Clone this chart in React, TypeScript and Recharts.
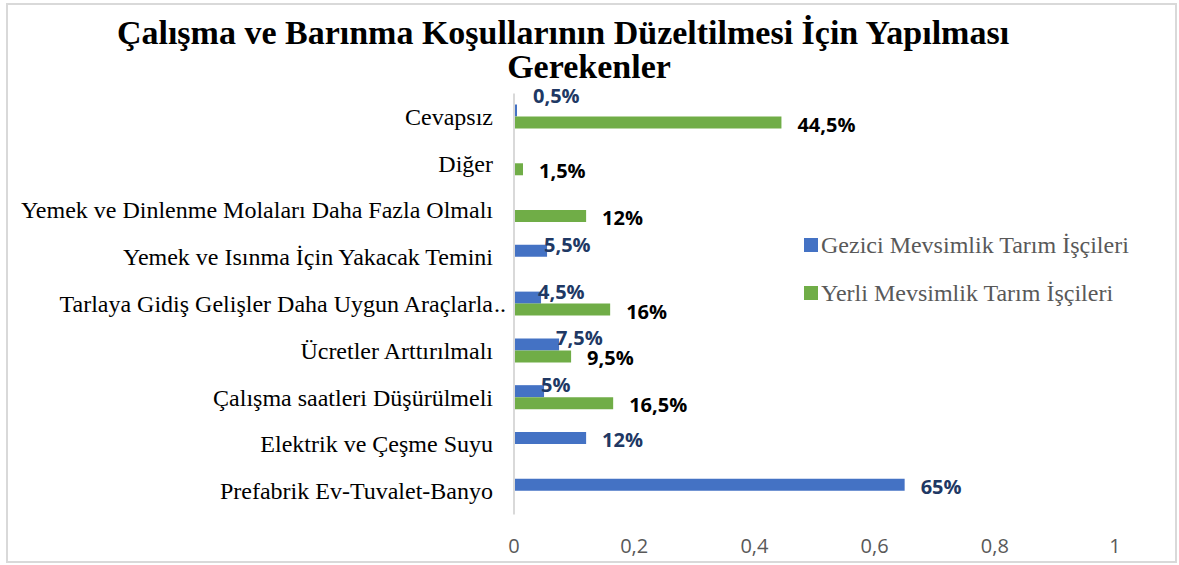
import React from 'react';
import { BarChart, Bar, XAxis, YAxis, Legend, LabelList } from 'recharts';

const categories = [
  'Cevapsız',
  'Diğer',
  'Yemek ve Dinlenme Molaları Daha Fazla Olmalı',
  'Yemek ve Isınma İçin Yakacak Temini',
  'Tarlaya Gidiş Gelişler Daha Uygun Araçlarla..',
  'Ücretler Arttırılmalı',
  'Çalışma saatleri Düşürülmeli',
  'Elektrik ve Çeşme Suyu',
  'Prefabrik Ev-Tuvalet-Banyo',
];
const gezici: (number | null)[] = [0.005, null, null, 0.055, 0.045, 0.075, 0.05, 0.12, 0.65];
const yerli: (number | null)[] = [0.445, 0.015, 0.12, null, 0.16, 0.095, 0.165, null, null];
const xTicks = [0, 0.2, 0.4, 0.6, 0.8, 1];
const seriesNames = ['Gezici Mevsimlik Tarım İşçileri', 'Yerli Mevsimlik Tarım İşçileri'];
const titleLines = ['Çalışma ve Barınma Koşullarının Düzeltilmesi İçin Yapılması', 'Gerekenler'];

const data = categories.map((name, i) => ({ name, gezici: gezici[i], yerli: yerli[i] }));

const BLUE = '#4472C4';
const GREEN = '#70AD47';
const SERIF = '"Liberation Serif", "Times New Roman", serif';
const SANS = '"Open Sans", "Liberation Sans", sans-serif';

const fmtPct = (v: number) => `${(Math.round(v * 1000) / 10).toString().replace('.', ',')}%`;
const fmtTick = (v: number) => v.toString().replace('.', ',');

const XTick = (props: any) => {
  const { x, y, payload } = props;
  return (
    <text x={x} y={y + 38.5} textAnchor="middle" fill="#595959" fontFamily={SANS} fontSize={20}>
      {fmtTick(payload.value)}
    </text>
  );
};

const YTick = (props: any) => {
  const { x, y, payload } = props;
  const label: string = payload.value;
  const truncated = label.endsWith('..');
  const main = truncated ? label.slice(0, -2) : label;
  return (
    <g>
      <text x={x - 21} y={y + 8} textAnchor="end" fill="#000" fontFamily={SERIF} fontSize={24}>
        {main}
      </text>
      {truncated && (
        <text x={x - 20} y={y + 8} textAnchor="start" fill="#000" fontFamily={SERIF} fontSize={24}>
          ..
        </text>
      )}
    </g>
  );
};

const BlueLabel = (props: any) => {
  const { x, y, width, height, value } = props;
  if (value == null || value === 0) return null;
  const end = x + width;
  const cy = y + height / 2;
  let tx: number;
  let ty: number;
  if (value >= 0.1) {
    tx = end + 16;
    ty = cy + 9;
  } else {
    tx = Math.max(end - 3, 533);
    ty = cy + 9 - (value < 0.01 ? 17 : 8);
  }
  return (
    <text x={tx} y={ty} fill="#203864" fontFamily={SANS} fontWeight="bold" fontSize={20}>
      {fmtPct(value)}
    </text>
  );
};

const GreenLabel = (props: any) => {
  const { x, y, width, height, value } = props;
  if (value == null || value === 0) return null;
  const end = x + width;
  const cy = y + height / 2;
  return (
    <text x={end + 16} y={cy + 9} fill="#000" fontFamily={SANS} fontWeight="bold" fontSize={20}>
      {fmtPct(value)}
    </text>
  );
};

const LegendContent = (props: any) => {
  const payload = props.payload || [];
  return (
    <svg width={380} height={90} style={{ display: 'block', overflow: 'visible', position: 'absolute', left: 0, top: 0 }}>
      {payload.map((entry: any, i: number) => (
        <g key={i}>
          <rect x={4} y={13 + i * 48} width={14} height={14} fill={entry.color} />
          <text x={21} y={28 + i * 48} fill="#595959" fontFamily={SERIF} fontSize={24}>
            {entry.value}
          </text>
        </g>
      ))}
    </svg>
  );
};

export default function App() {
  return (
    <div style={{ position: 'fixed', left: 0, top: 0, width: 1179, height: 565, background: '#fff', overflow: 'hidden' }}>
      <div
        style={{
          position: 'absolute',
          left: 6,
          top: 3,
          width: 1171,
          height: 560,
          border: '2px solid #d9d9d9',
          boxSizing: 'border-box',
        }}
      />
      <svg width={1179} height={100} style={{ position: 'absolute', left: 0, top: 0 }}>
        <text x={563} y={44} textAnchor="middle" fontFamily={SERIF} fontWeight="bold" fontSize={34} fill="#000">
          {titleLines[0]}
        </text>
        <text x={589} y={78} textAnchor="middle" fontFamily={SERIF} fontWeight="bold" fontSize={34} fill="#000">
          {titleLines[1]}
        </text>
      </svg>
      <div style={{ position: 'absolute', left: 0, top: 0 }}>
        <BarChart
          width={1179}
          height={565}
          data={data}
          layout="vertical"
          margin={{ top: 93.5, right: 64, bottom: 0, left: 0 }}
          barGap={0}
          barSize={12}
        >
          <XAxis
            type="number"
            domain={[0, 1]}
            ticks={xTicks}
            axisLine={false}
            tickLine={false}
            tickSize={0}
            tickMargin={0}
            height={50.5}
            tick={<XTick />}
            interval={0}
          />
          <YAxis
            type="category"
            dataKey="name"
            width={514}
            axisLine={{ stroke: '#d9d9d9', strokeWidth: 2 }}
            tickLine={false}
            tickSize={0}
            tickMargin={0}
            tick={<YTick />}
            interval={0}
          />
          <Legend
            content={<LegendContent />}
            wrapperStyle={{ position: 'absolute', left: 800, top: 225, width: 0, height: 0, overflow: 'visible' }}
          />
          <Bar dataKey="gezici" name={seriesNames[0]} fill={BLUE} isAnimationActive={false}>
            <LabelList dataKey="gezici" content={<BlueLabel />} />
          </Bar>
          <Bar dataKey="yerli" name={seriesNames[1]} fill={GREEN} isAnimationActive={false}>
            <LabelList dataKey="yerli" content={<GreenLabel />} />
          </Bar>
        </BarChart>
      </div>
    </div>
  );
}
